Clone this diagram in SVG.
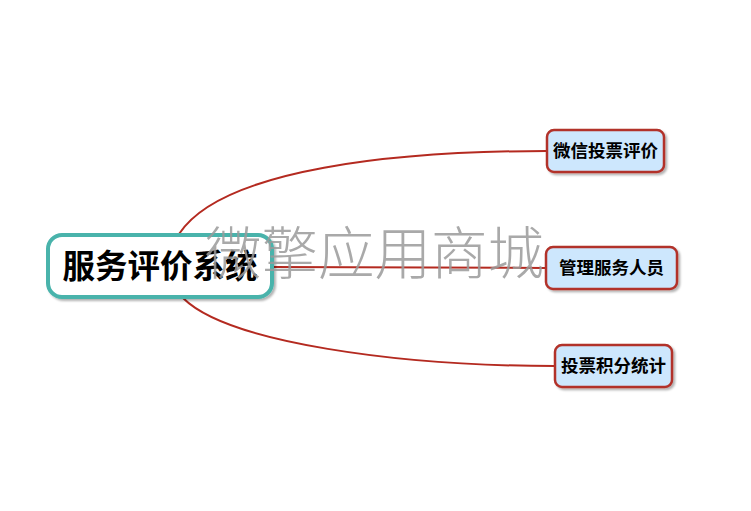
<svg xmlns="http://www.w3.org/2000/svg" width="751" height="511" viewBox="0 0 751 511">
<defs>
<filter id="sh" x="-10%" y="-20%" width="130%" height="150%">
<feDropShadow dx="2" dy="2" stdDeviation="1.2" flood-color="#000" flood-opacity="0.3"/>
</filter>
<style>
.root rect{fill:#fff;stroke:#48b3ab;stroke-width:4}
.root text{font-family:"Noto Sans CJK SC",sans-serif;font-weight:bold;font-size:32.5px;fill:#000;text-anchor:middle}
.child rect{fill:#cde7fd;stroke:#b2322b;stroke-width:2.5}
.child text{font-family:"Noto Sans CJK SC",sans-serif;font-weight:bold;font-size:17.5px;fill:#000;text-anchor:middle}
.conn path{fill:none;stroke:#b42a20;stroke-width:2}
.wm{font-family:"Noto Sans CJK SC",sans-serif;font-weight:300;font-size:56.5px;fill:#9a9a9a;fill-opacity:0.85}
</style>
</defs>
<rect width="751" height="511" fill="#fff"/>
<g id="connectors" class="conn">
<path d="M179,234 C222,168 400,151 547,151"/>
<path d="M272,267 L546,268"/>
<path d="M183,298 C228,343 400,366 555,366"/>
</g>
<g id="root" class="root">
<rect x="48" y="235" width="224" height="62" rx="14" filter="url(#sh)"/>
<text x="160" y="277.5">服务评价系统</text>
</g>
<g id="n1" class="child">
<rect x="547" y="130" width="117" height="42" rx="7" filter="url(#sh)"/>
<text x="605.5" y="157">微信投票评价</text>
</g>
<g id="n2" class="child">
<rect x="546" y="247" width="131" height="42" rx="7" filter="url(#sh)"/>
<text x="611.5" y="274">管理服务人员</text>
</g>
<g id="n3" class="child">
<rect x="555" y="345" width="117" height="42" rx="7" filter="url(#sh)"/>
<text x="613.5" y="372">投票积分统计</text>
</g>
<text class="wm" x="205" y="274">微擎应用商城</text>
</svg>
